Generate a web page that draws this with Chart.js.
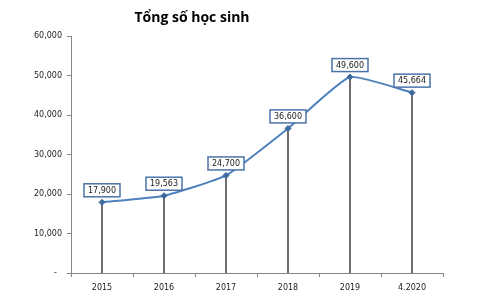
<!DOCTYPE html>
<html>
<head>
<meta charset="utf-8">
<script src="https://cdn.jsdelivr.net/npm/chart.js@4/dist/chart.umd.min.js"></script>
<style>
  html, body { margin: 0; padding: 0; background: #fff; }
  #wrap { width: 500px; height: 300px; }
</style>
</head>
<body>
<div id="wrap"><canvas id="hocSinhChart" width="500" height="300"></canvas></div>
<script>
// Data
const years = ['2015', '2016', '2017', '2018', '2019', '4.2020'];
const students = [17900, 19563, 24700, 36600, 49600, 45664];
const yTicks = [0, 10000, 20000, 30000, 40000, 50000, 60000];

const fmt = v => v.toLocaleString('en-US');

// title drawn by hand so it sits where the Excel one did
const titlePlugin = {
    id: 'titleText',
    afterDraw(chart) {
        const c = chart.ctx;
        c.save();
        c.font = 'bold 14px "Open Sans", sans-serif';
        c.fillStyle = '#000';
        c.textAlign = 'center';
        c.textBaseline = 'middle';
        c.fillText('Tổng số học sinh', 192, 18);
        c.restore();
    }
};

// vertical drop lines from each point to the x axis
const dropLines = {
    id: 'dropLines',
    beforeDatasetsDraw(chart) {
        const c = chart.ctx;
        const yScale = chart.scales.y;
        const bottom = yScale.getPixelForValue(0);
        c.save();
        c.strokeStyle = '#3f3f3f';
        c.lineWidth = 1.5;
        chart.getDatasetMeta(0).data.forEach(pt => {
            c.beginPath();
            c.moveTo(pt.x, pt.y);
            c.lineTo(pt.x, bottom);
            c.stroke();
        });
        c.restore();
    }
};

// boxed value labels above the points
const boxLabels = {
    id: 'boxLabels',
    afterDatasetsDraw(chart) {
        const c = chart.ctx;
        c.save();
        c.font = '8px "DejaVu Sans", sans-serif';
        c.textAlign = 'center';
        c.textBaseline = 'middle';
        chart.getDatasetMeta(0).data.forEach((pt, i) => {
            const txt = fmt(students[i]);
            const w = c.measureText(txt).width + 8;
            const h = 13;
            const cx = pt.x, cy = pt.y - 12;
            c.fillStyle = '#fff';
            c.fillRect(cx - w / 2, cy - h / 2, w, h);
            c.strokeStyle = '#4a73a8';
            c.lineWidth = 1.5;
            c.strokeRect(cx - w / 2, cy - h / 2, w, h);
            c.fillStyle = '#222';
            c.fillText(txt, cx, cy + 0.5);
        });
        c.restore();
    }
};

const ctx = document.getElementById('hocSinhChart').getContext('2d');
new Chart(ctx, {
    type: 'line',
    data: {
        labels: years,
        datasets: [{
            label: 'Tổng số học sinh',
            data: students,
            borderColor: '#4f81bd',
            borderWidth: 2,
            tension: 0.15,
            pointStyle: 'rectRot',
            pointRadius: 3,
            pointBackgroundColor: '#3e6a9e',
            pointBorderColor: '#3e6a9e',
            pointBorderWidth: 1
        }]
    },
    options: {
        responsive: false,
        animation: false,
        events: [],
        layout: { padding: { top: 36, right: 57, left: 0, bottom: 0 } },
        plugins: {
            legend: { display: false },
            title: { display: false },
            tooltip: { enabled: false }
        },
        scales: {
            x: {
                offset: true,
                grid: {
                    offset: true,
                    drawOnChartArea: false,
                    drawTicks: true,
                    tickLength: 4,
                    color: '#868686'
                },
                border: { color: '#868686', width: 1 },
                ticks: {
                    color: '#222',
                    font: { family: '"DejaVu Sans"', size: 8 },
                    padding: 6,
                    maxRotation: 0
                },
                afterFit(s) { s.height = 27; }
            },
            y: {
                min: 0,
                max: 60000,
                afterBuildTicks(s) { s.ticks = yTicks.map(v => ({ value: v })); },
                grid: {
                    drawOnChartArea: false,
                    drawTicks: true,
                    tickLength: 4,
                    color: '#868686'
                },
                border: { color: '#868686', width: 1 },
                ticks: {
                    color: '#222',
                    font: { family: '"DejaVu Sans"', size: 8 },
                    padding: 5,
                    callback: v => v === 0 ? '-  ' : fmt(v)
                },
                afterFit(s) { s.width = 71; }
            }
        }
    },
    plugins: [dropLines, boxLabels, titlePlugin]
});
</script>
</body>
</html>
